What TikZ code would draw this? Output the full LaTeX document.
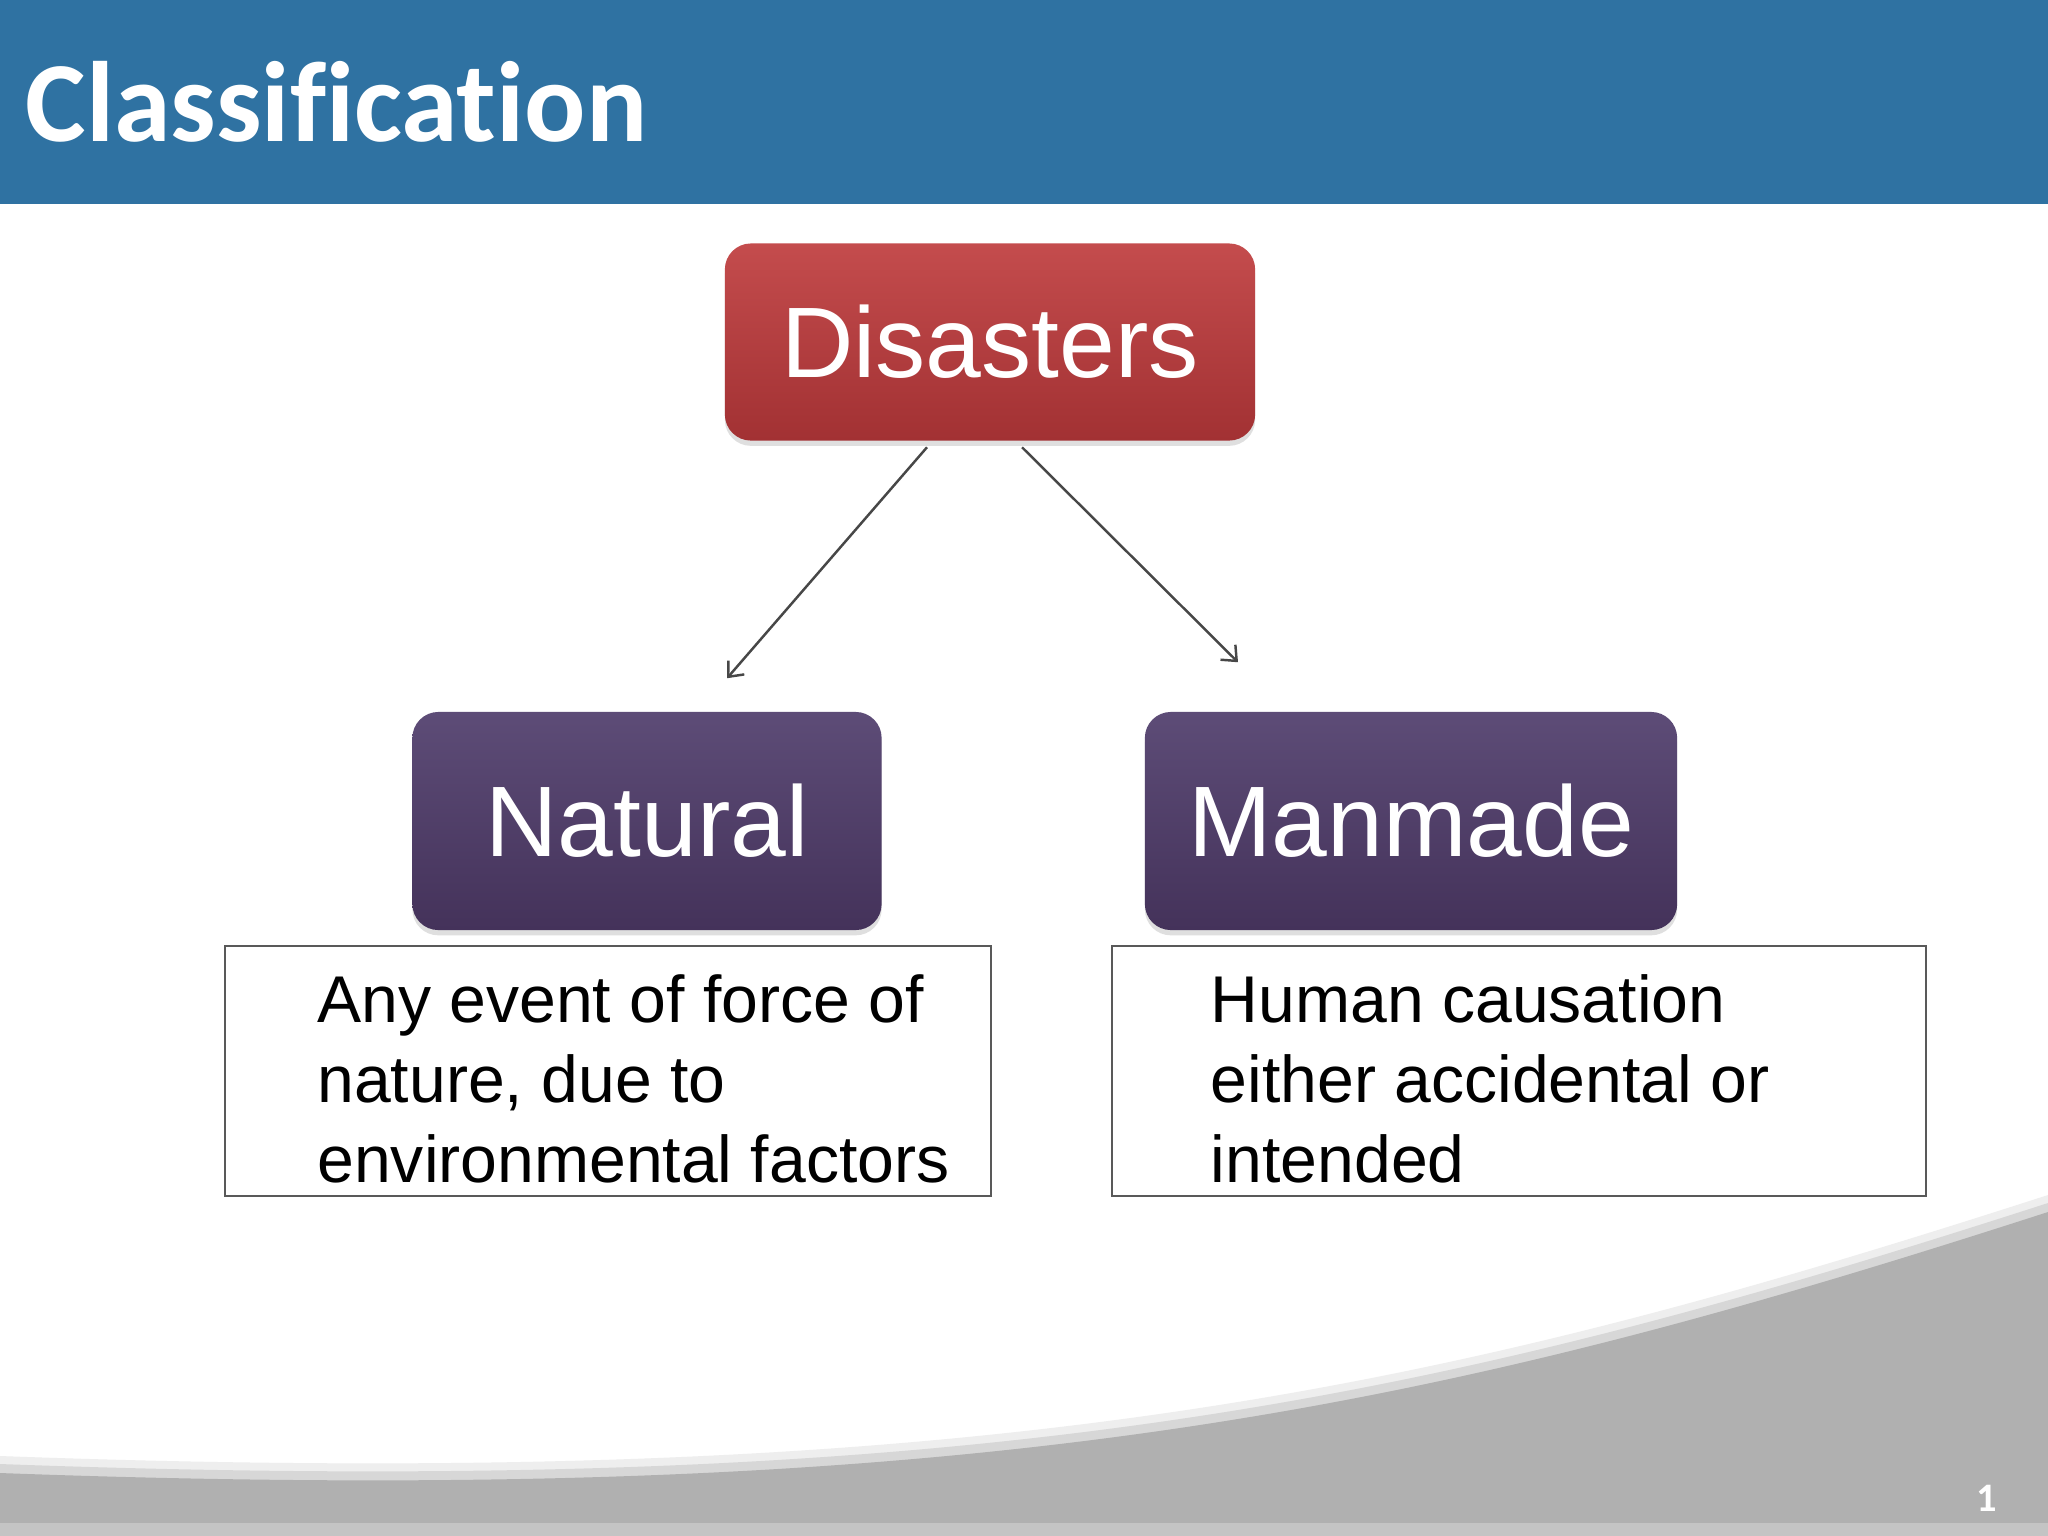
\documentclass[tikz,border=0pt]{standalone}
\usepackage{fontspec}
\setmainfont{Liberation Sans}
\newfontfamily\slidefont{Carlito}[Ligatures=NoCommon]
\usetikzlibrary{arrows.meta,positioning,calc,shadows}
\definecolor{header}{HTML}{2F72A2}
\definecolor{redbox}{HTML}{A23133}
\definecolor{redtop}{HTML}{C44C4D}
\definecolor{purplebox}{HTML}{44325A}
\definecolor{purpletop}{HTML}{5D4C77}
\definecolor{footgray}{HTML}{B0B0B0}
\definecolor{arrowgray}{HTML}{474747}
\tikzset{
  catbox/.style={rounded corners=0.26cm, text=white, minimum height=1.97cm,
    font=\fontsize{28.5}{34}\selectfont,
    drop shadow={shadow xshift=0pt, shadow yshift=-1.5pt, opacity=0.25}},
  topcat/.style={catbox, top color=redtop, bottom color=redbox, minimum width=5.30cm},
  subcat/.style={catbox, top color=purpletop, bottom color=purplebox, minimum height=2.18cm},
  descbox/.style={draw=black!65, line width=0.6pt, fill=white, minimum height=2.50cm, inner sep=0pt},
  desctext/.style={align=left, inner sep=0pt, anchor=north west, font=\fontsize{18.8}{22.8}\selectfont},
  branch/.style={-{Straight Barb[length=3.5pt,width=6pt]}, arrowgray, line width=0.7pt}
}
\begin{document}
\begin{tikzpicture}[x=0.01cm,y=-0.01cm]
\useasboundingbox (0,0) rectangle (2048,1536);
\fill[white] (0,0) rectangle (2048,1536);
% title bar
\fill[header] (0,0) rectangle (2048,204);
\node[anchor=base west, inner sep=0pt, text=white, font=\slidefont\bfseries\fontsize{32.5}{38}\selectfont] (title) at (25,141) {Classification};
% footer swoosh
\foreach \dy/\shade in {-17/22,-9/50,0/100}
  \fill[footgray!\shade] (0,1473+\dy) .. controls (1000,1510+\dy) and (1450,1405+\dy) .. (2048,1212+\dy) -- (2048,1536) -- (0,1536) -- cycle;
\fill[footgray!75!white] (0,1523) rectangle (2048,1536);
\node[anchor=base, inner sep=0pt, text=white, font=\slidefont\bfseries\fontsize{11.5}{13}\selectfont] (pagenum) at (1987,1511) {1};
% boxes
\node[topcat] (disasters) at (990,342) {Disasters};
\node[subcat, minimum width=4.69cm] (natural) at (647,821) {Natural};
\node[subcat, minimum width=5.32cm] (manmade) at (1411,821) {Manmade};
\node[descbox, minimum width=7.66cm] (natdesc) at (608,1071) {};
\node[descbox, minimum width=8.13cm] (mandesc) at (1519,1071) {};
\node[desctext] (nattext) at ($(natdesc.north west)+(93,29)$) {Any event of force of\\nature, due to\\environmental factors};
\node[desctext] (mantext) at ($(mandesc.north west)+(99,29)$) {Human causation\\either accidental or\\intended};
% arrows
\draw[branch] ([shift={(-63,6)}]disasters.south) -- ([shift={(80,-33)}]natural.north);
\draw[branch] ([shift={(32,6)}]disasters.south) -- ([shift={(-173,-49)}]manmade.north);
\end{tikzpicture}
\end{document}
